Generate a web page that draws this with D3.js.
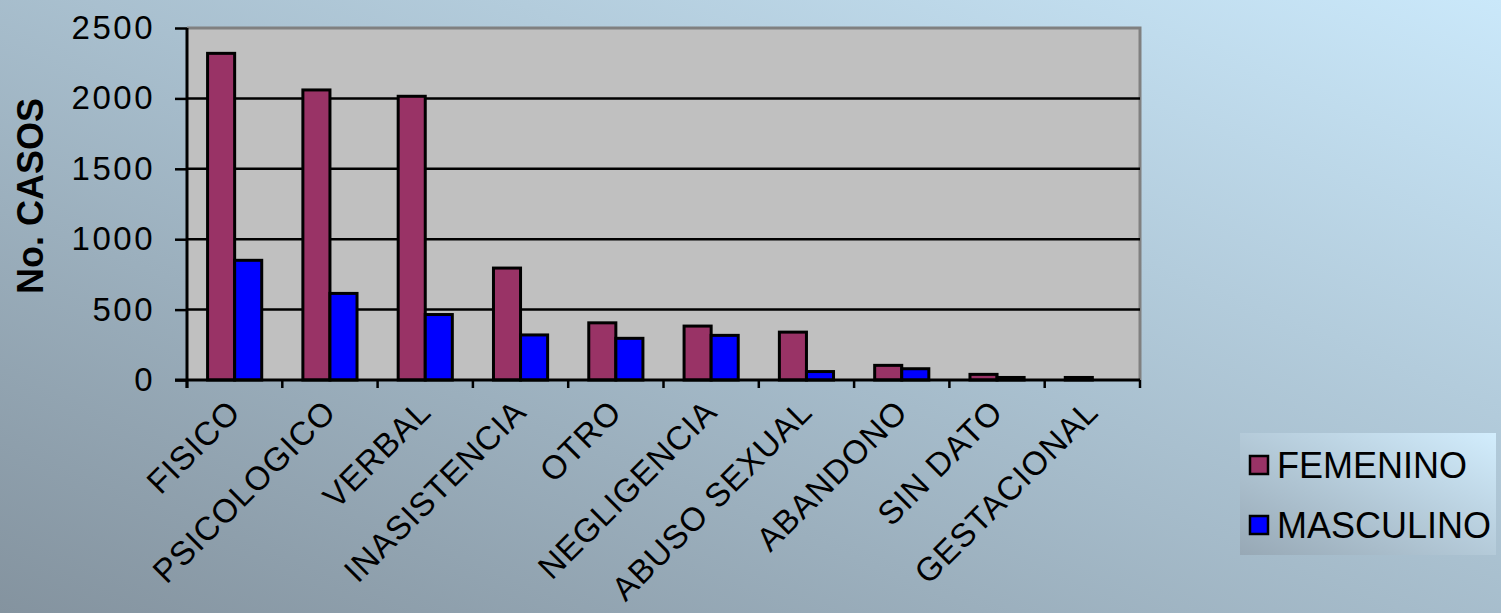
<!DOCTYPE html>
<html>
<head>
<meta charset="utf-8">
<script src="https://cdn.jsdelivr.net/npm/d3@7"></script>
<style>
  html, body { margin: 0; padding: 0; overflow: hidden; }
  svg { display: block; font-family: "Liberation Sans", Arial, sans-serif; }
</style>
</head>
<body>
<div id="chart"></div>
<script>
// data
const categories = ['FISICO', 'PSICOLOGICO', 'VERBAL', 'INASISTENCIA', 'OTRO',
  'NEGLIGENCIA', 'ABUSO SEXUAL', 'ABANDONO', 'SIN DATO', 'GESTACIONAL'];
const series = ['FEMENINO', 'MASCULINO'];
const femenino = [2320, 2060, 2015, 795, 406, 383, 340, 104, 40, 18];
const masculino = [850, 615, 465, 320, 296, 317, 60, 80, 18, 0];
const yTicks = [0, 500, 1000, 1500, 2000, 2500];

function drawChart() {
  const width = 1501, height = 613;
  const margin = ({top: 28, right: 361, bottom: 233, left: 187});
  const plotW = width - margin.left - margin.right;
  const plotH = height - margin.top - margin.bottom;

  const seriesColor = d3.scaleOrdinal().domain(series).range(['#993366', '#0000ff']);

  const rows = categories.map((c, i) => ({cat: c, FEMENINO: femenino[i], MASCULINO: masculino[i]}));

  const x = d3.scaleBand().domain(categories).range([0, plotW]).paddingInner(0).paddingOuter(0);
  const x1 = d3.scaleBand().domain(series).range([0, x.bandwidth()]).paddingInner(0).paddingOuter(0.76);
  const y = d3.scaleLinear().domain([0, 2500]).range([plotH, 0]);

  const svg = d3.select('#chart').append('svg')
      .attr('width', width)
      .attr('height', height);

  // background gradient
  const defs = svg.append('defs');
  const bg = defs.append('linearGradient').attr('id', 'bg')
      .attr('x1', 0).attr('y1', 1).attr('x2', 1).attr('y2', 0);
  bg.append('stop').attr('offset', '0%').attr('stop-color', '#84939f');
  bg.append('stop').attr('offset', '100%').attr('stop-color', '#cae8fa');
  const lg = defs.append('linearGradient').attr('id', 'lg')
      .attr('x1', 0).attr('y1', 1).attr('x2', 1).attr('y2', 0);
  lg.append('stop').attr('offset', '0%').attr('stop-color', '#97a8b5');
  lg.append('stop').attr('offset', '100%').attr('stop-color', '#d2edfd');

  svg.append('rect').attr('width', width).attr('height', height).attr('fill', 'url(#bg)');

  const g = svg.append('g').attr('transform', `translate(${margin.left}, ${margin.top})`);

  // plot area
  g.append('rect')
      .attr('width', plotW).attr('height', plotH)
      .attr('fill', '#c0c0c0');
  g.append('path')
      .attr('d', `M0,0H${plotW}V${plotH}`)
      .attr('fill', 'none').attr('stroke', '#808080').attr('stroke-width', 3);

  // grid lines
  g.selectAll('.grid')
    .data(yTicks.filter(d => d > 0 && d < 2500))
    .join('line')
      .attr('x1', 0).attr('x2', plotW)
      .attr('y1', d => y(d)).attr('y2', d => y(d))
      .attr('stroke', '#000').attr('stroke-width', 2.5);

  // bars
  g.append('g').selectAll('g')
    .data(rows)
    .join('g')
      .attr('transform', d => `translate(${x(d.cat)}, 0)`)
    .selectAll('rect')
    .data(d => series.map(s => ({key: s, value: d[s]})))
    .join('rect')
      .attr('x', d => x1(d.key))
      .attr('width', x1.bandwidth())
      .attr('y', d => y(d.value))
      .attr('height', d => y(0) - y(d.value))
      .attr('fill', d => seriesColor(d.key))
      .attr('stroke', '#000')
      .attr('stroke-width', 3);

  // y axis
  const yAxis = g.append('g')
      .call(d3.axisLeft(y).tickValues(yTicks).tickFormat(d3.format('d')).tickSize(12).tickPadding(20))
      .call(g => g.select('.domain').remove());
  yAxis.selectAll('.tick line').attr('stroke', '#000').attr('stroke-width', 2.5);
  yAxis.selectAll('.tick text')
      .attr('fill', '#000')
      .style('font-size', '33px')
      .style('letter-spacing', '2.5px')
      .style('font-family', '"Liberation Sans", Arial, sans-serif');
  g.append('line')
      .attr('x1', 0).attr('x2', 0).attr('y1', 0).attr('y2', plotH + 8)
      .attr('stroke', '#000').attr('stroke-width', 3);

  // x axis
  const xAxis = g.append('g').attr('transform', `translate(0, ${plotH})`);
  xAxis.append('line')
      .attr('x1', -12).attr('x2', plotW)
      .attr('stroke', '#000').attr('stroke-width', 3);
  xAxis.selectAll('.xtick')
    .data(categories.map(c => x(c)).concat([plotW]))
    .join('line')
      .attr('x1', d => d).attr('x2', d => d)
      .attr('y1', 0).attr('y2', 8)
      .attr('stroke', '#000').attr('stroke-width', 2.5);
  xAxis.selectAll('.xlabel')
    .data(categories)
    .join('text')
      .attr('transform', d => `translate(${x(d) + x.bandwidth() / 2 - 9}, 17) rotate(-45)`)
      .attr('text-anchor', 'end')
      .attr('dy', '0.72em')
      .style('font-size', '33px')
      .style('letter-spacing', '1px')
      .attr('fill', '#000')
      .text(d => d);

  // y title
  svg.append('text')
      .attr('transform', 'translate(43, 196) rotate(-90)')
      .attr('text-anchor', 'middle')
      .style('font-size', '36px')
      .style('font-weight', 'bold')
      .text('No. CASOS');

  // legend
  const legend = svg.append('g').attr('transform', 'translate(1240, 433)');
  legend.append('rect')
      .attr('width', 256).attr('height', 122)
      .attr('fill', 'url(#lg)');
  const item = legend.selectAll('.item')
    .data(series)
    .join('g')
      .attr('transform', (d, i) => `translate(0, ${32 + i * 60})`);
  item.append('rect')
      .attr('x', 10).attr('y', -9)
      .attr('width', 18).attr('height', 18)
      .attr('fill', d => seriesColor(d))
      .attr('stroke', '#000').attr('stroke-width', 2.5);
  item.append('text')
      .attr('x', 37)
      .attr('dy', '0.36em')
      .style('font-size', '36px')
      .text(d => d);
}

drawChart();
</script>
</body>
</html>
